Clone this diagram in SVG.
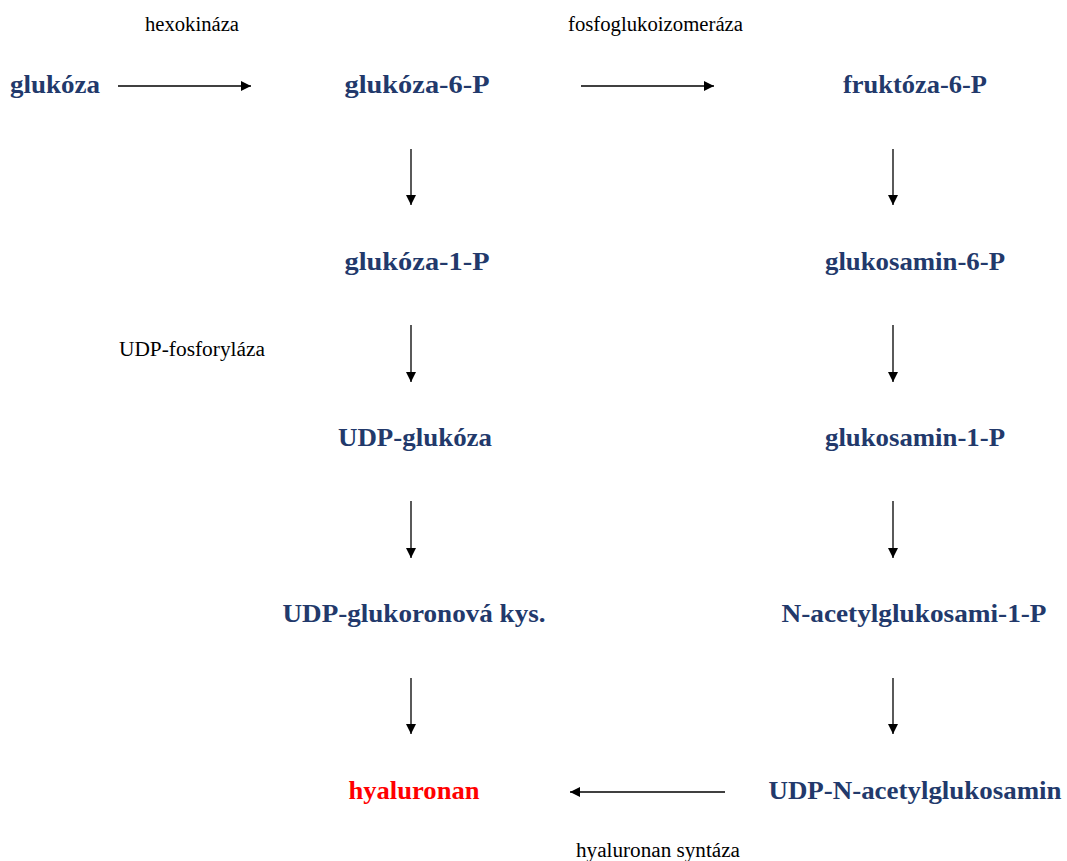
<svg xmlns="http://www.w3.org/2000/svg" width="1067" height="861" viewBox="0 0 1067 861">
<defs>
<style>
.n{font-family:"Liberation Serif","Times New Roman",serif;font-weight:bold;font-size:25px;fill:#22396B;text-anchor:middle}
.r{fill:#FF0000}
.e{font-family:"Liberation Serif","Times New Roman",serif;font-size:20px;fill:#000}
.c{stroke:#000;stroke-width:1.3;fill:none;marker-end:url(#ah)}
</style>
<marker id="ah" viewBox="0 0 10 10" refX="10" refY="5" markerWidth="10" markerHeight="10" markerUnits="userSpaceOnUse" orient="auto">
<path d="M0,0 L10,5 L0,10 z" fill="#000"/>
</marker>
</defs>
<rect width="1067" height="861" fill="#fff"/>
<g id="connectors">
<line class="c" x1="118" y1="86" x2="251" y2="86"/>
<line class="c" x1="581" y1="86" x2="714" y2="86"/>
<line class="c" x1="411" y1="149" x2="411" y2="205"/>
<line class="c" x1="411" y1="325" x2="411" y2="382"/>
<line class="c" x1="411" y1="501" x2="411" y2="558"/>
<line class="c" x1="411" y1="678" x2="411" y2="734"/>
<line class="c" x1="893" y1="149" x2="893" y2="205"/>
<line class="c" x1="893" y1="325" x2="893" y2="382"/>
<line class="c" x1="893" y1="501" x2="893" y2="558"/>
<line class="c" x1="893" y1="678" x2="893" y2="734"/>
<line class="c" x1="725" y1="792" x2="570" y2="792"/>
</g>
<g id="labels">
<text class="e" x="145" y="31" textLength="94" lengthAdjust="spacingAndGlyphs">hexokináza</text>
<text class="e" x="568" y="31" textLength="175" lengthAdjust="spacingAndGlyphs">fosfoglukoizomeráza</text>
<text class="e" x="119" y="356" textLength="146" lengthAdjust="spacingAndGlyphs">UDP-fosforyláza</text>
<text class="e" x="576" y="857" textLength="164" lengthAdjust="spacingAndGlyphs">hyaluronan syntáza</text>
</g>
<g id="n-glukoza"><text class="n" x="55" y="93" textLength="90" lengthAdjust="spacingAndGlyphs">glukóza</text></g>
<g id="n-g6p"><text class="n" x="417" y="93" textLength="145" lengthAdjust="spacingAndGlyphs">glukóza-6-P</text></g>
<g id="n-f6p"><text class="n" x="915" y="93" textLength="144" lengthAdjust="spacingAndGlyphs">fruktóza-6-P</text></g>
<g id="n-g1p"><text class="n" x="417" y="270" textLength="145" lengthAdjust="spacingAndGlyphs">glukóza-1-P</text></g>
<g id="n-gm6p"><text class="n" x="915" y="270" textLength="180" lengthAdjust="spacingAndGlyphs">glukosamin-6-P</text></g>
<g id="n-udpg"><text class="n" x="415" y="446" textLength="154" lengthAdjust="spacingAndGlyphs">UDP-glukóza</text></g>
<g id="n-gm1p"><text class="n" x="915" y="446" textLength="180" lengthAdjust="spacingAndGlyphs">glukosamin-1-P</text></g>
<g id="n-udpgk"><text class="n" x="414" y="622" textLength="263" lengthAdjust="spacingAndGlyphs">UDP-glukoronová kys.</text></g>
<g id="n-nag"><text class="n" x="914" y="622" textLength="265" lengthAdjust="spacingAndGlyphs">N-acetylglukosami-1-P</text></g>
<g id="n-hya"><text class="n r" x="414" y="799" textLength="131" lengthAdjust="spacingAndGlyphs">hyaluronan</text></g>
<g id="n-udpnag"><text class="n" x="915" y="799" textLength="293" lengthAdjust="spacingAndGlyphs">UDP-N-acetylglukosamin</text></g>
</svg>
